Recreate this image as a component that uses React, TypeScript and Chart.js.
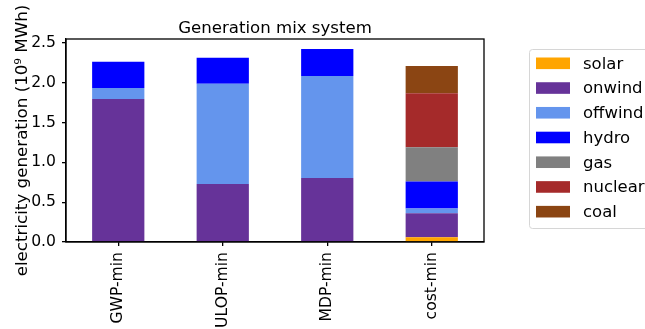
import React, { useEffect, useRef } from "react";
import { Chart, registerables } from "chart.js";

Chart.register(...registerables);

const categories = ["GWP-min", "ULOP-min", "MDP-min", "cost-min"];
const seriesNames = ["solar", "onwind", "offwind", "hydro", "gas", "nuclear", "coal"];
const solar = [0, 0, 0, 0.06];
const onwind = [1.795, 0.73, 0.805, 0.3];
const offwind = [0.138, 1.257, 1.279, 0.06];
const hydro = [0.331, 0.327, 0.34, 0.34];
const gas = [0, 0, 0, 0.43];
const nuclear = [0, 0, 0, 0.68];
const coal = [0, 0, 0, 0.34];
const colors = ["#FFA500", "#663399", "#6495ED", "#0000FF", "#808080", "#A52A2A", "#8B4513"];
const yTicks = [0, 0.5, 1.0, 1.5, 2.0, 2.5];
const titleText = "Generation mix system";
const yLabel = "electricity generation (10\u2079 MWh)";

const FONT = "'DejaVu Sans', sans-serif";

const decorPlugin = {
  id: "decor",
  afterDraw(chart: any) {
    const ctx = chart.ctx;
    const a = chart.chartArea;
    ctx.save();
    // spines
    ctx.strokeStyle = "#000";
    ctx.lineWidth = 1.3;
    ctx.strokeRect(a.left, a.top, a.right - a.left, a.bottom - a.top);
    // title
    ctx.fillStyle = "#000";
    ctx.font = `16.6px ${FONT}`;
    ctx.textAlign = "center";
    ctx.textBaseline = "alphabetic";
    ctx.fillText(titleText, (a.left + a.right) / 2, 32.5);
    // legend
    const bx = 529.5, by = 49.5, bw = 140, bh = 179, r = 3;
    ctx.beginPath();
    ctx.moveTo(bx + r, by);
    ctx.lineTo(bx + bw - r, by);
    ctx.quadraticCurveTo(bx + bw, by, bx + bw, by + r);
    ctx.lineTo(bx + bw, by + bh - r);
    ctx.quadraticCurveTo(bx + bw, by + bh, bx + bw - r, by + bh);
    ctx.lineTo(bx + r, by + bh);
    ctx.quadraticCurveTo(bx, by + bh, bx, by + bh - r);
    ctx.lineTo(bx, by + r);
    ctx.quadraticCurveTo(bx, by, bx + r, by);
    ctx.closePath();
    ctx.fillStyle = "#fff";
    ctx.fill();
    ctx.strokeStyle = "#d6d6d6";
    ctx.lineWidth = 1;
    ctx.stroke();
    ctx.textAlign = "left";
    ctx.textBaseline = "middle";
    ctx.font = `16.5px ${FONT}`;
    chart.data.datasets.forEach((ds: any, i: number) => {
      const cy = 63.3 + i * 24.73;
      ctx.fillStyle = ds.backgroundColor;
      ctx.fillRect(536, cy - 5.8, 34, 11.6);
      ctx.fillStyle = "#000";
      ctx.fillText(ds.label, 583, cy + 1);
    });
    ctx.restore();
  },
};

export default function App() {
  const ref = useRef<HTMLCanvasElement>(null);
  useEffect(() => {
    const seriesValues = [solar, onwind, offwind, hydro, gas, nuclear, coal];
    const chart = new Chart(ref.current as HTMLCanvasElement, {
      type: "bar",
      data: {
        labels: categories,
        datasets: seriesNames.map((name, i) => ({
          label: name,
          data: seriesValues[i],
          backgroundColor: colors[i],
          borderWidth: 0,
          barPercentage: 0.5,
          categoryPercentage: 1,
        })),
      },
      options: {
        responsive: false,
        animation: false,
        devicePixelRatio: 1,
        layout: { padding: { top: 39, right: 161, left: 0, bottom: 0 } },
        plugins: {
          legend: { display: false },
          title: { display: false },
          tooltip: { enabled: false },
        },
        scales: {
          x: {
            stacked: true,
            offset: true,
            grid: { offset: false, drawOnChartArea: false, drawTicks: true, tickLength: 4, color: "#000", lineWidth: 1.3 },
            border: { display: true, color: "#000", width: 1.3 },
            ticks: {
              color: "#000",
              font: { family: FONT, size: 15.6 },
              minRotation: 90,
              maxRotation: 90,
              padding: 6,
              autoSkip: false,
            },
            afterFit: (s: any) => {
              s.height = 87;
            },
          },
          y: {
            stacked: true,
            min: 0,
            max: 2.55,
            grid: { drawOnChartArea: false, drawTicks: true, tickLength: 4, color: "#000", lineWidth: 1.3 },
            border: { display: true, color: "#000", width: 1.3 },
            afterBuildTicks: (s: any) => {
              s.ticks = yTicks.map((v) => ({ value: v }));
            },
            ticks: {
              color: "#000",
              font: { family: FONT, size: 15.6 },
              padding: 6,
              includeBounds: false,
              callback: (v: any) => Number(v).toFixed(1),
            },
            title: {
              display: true,
              text: yLabel,
              color: "#000",
              font: { family: FONT, size: 16.7 },
              padding: { top: 13, bottom: 0 },
            },
            afterFit: (s: any) => {
              s.width = 66;
            },
          },
        },
      },
      plugins: [decorPlugin],
    });
    return () => chart.destroy();
  }, []);
  return (
    <div style={{ position: "absolute", left: 0, top: 0, width: 645, height: 329, background: "#fff" }}>
      <canvas ref={ref} width={645} height={329} />
    </div>
  );
}
